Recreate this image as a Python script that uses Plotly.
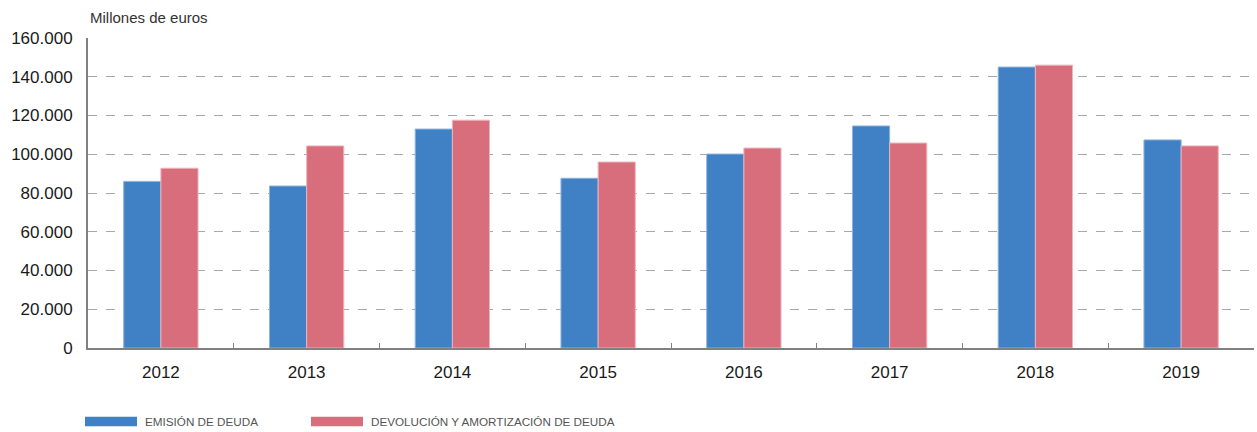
import plotly.graph_objects as go

years = ["2012", "2013", "2014", "2015", "2016", "2017", "2018", "2019"]
emision = [86000, 83600, 113000, 87600, 100100, 114600, 145000, 107400]
devolucion = [92800, 104300, 117600, 96000, 103200, 105800, 146000, 104300]
series_names = ["EMISIÓN DE DEUDA", "DEVOLUCIÓN Y AMORTIZACIÓN DE DEUDA"]
y_ticks = [0, 20000, 40000, 60000, 80000, 100000, 120000, 140000, 160000]

BLUE = "#4080C4"
PINK = "#D86E7C"

fig = go.Figure()
fig.add_trace(go.Bar(x=years, y=emision, name=series_names[0],
                     marker=dict(color=BLUE, line=dict(color="#8DB3DE", width=1)),
                     showlegend=False))
fig.add_trace(go.Bar(x=years, y=devolucion, name=series_names[1],
                     marker=dict(color=PINK, line=dict(color="#EDB5BC", width=1)),
                     showlegend=False))

fig.update_layout(
    width=1257, height=432,
    margin=dict(l=88, r=3, t=38, b=84),
    paper_bgcolor="white", plot_bgcolor="white",
    barmode="group", bargap=0.49, bargroupgap=0,
    separators=",.",
    font=dict(family="Liberation Sans, Arial, sans-serif", color="#1a1a1a"),
)
fig.update_xaxes(
    showline=True, linecolor="#808080", linewidth=2,
    ticks="inside", tickson="boundaries", ticklen=5, tickcolor="#808080", tickwidth=1,
    tickfont=dict(size=17, color="#1a1a1a"), showgrid=False, ticklabelstandoff=8,
)
fig.update_yaxes(
    range=[0, 160000], tickvals=y_ticks, tickformat=",d",
    showline=True, linecolor="#808080", linewidth=2,
    showgrid=True, gridcolor="#A8A8A8", griddash="dash", gridwidth=1,
    zeroline=False, ticks="", ticklabelstandoff=10,
    tickfont=dict(size=17, color="#1a1a1a"),
)

fig.add_annotation(text="Millones de euros", xref="paper", yref="paper",
                   x=0, y=1, yshift=10, xanchor="left", yanchor="bottom",
                   showarrow=False, font=dict(size=15, color="#333333"))

# custom legend
legend_items = [(series_names[0], BLUE, -3), (series_names[1], PINK, 223)]
for name, color, px in legend_items:
    x0 = px / 1166
    x1 = (px + 52) / 1166
    fig.add_shape(type="rect", xref="paper", yref="paper",
                  x0=x0, x1=x1, y0=-0.2215, y1=-0.2525,
                  fillcolor=color, line=dict(width=0))
    fig.add_annotation(text=name, xref="paper", yref="paper",
                       x=(px + 58) / 1166, y=-0.237, xanchor="left", yanchor="middle",
                       showarrow=False,
                       font=dict(size=11.7, color="#555555",
                                 family="Liberation Sans, Arial, sans-serif"))

fig.write_html("out.html", config={"displayModeBar": False},
               post_script="document.body.style.margin='0';")
